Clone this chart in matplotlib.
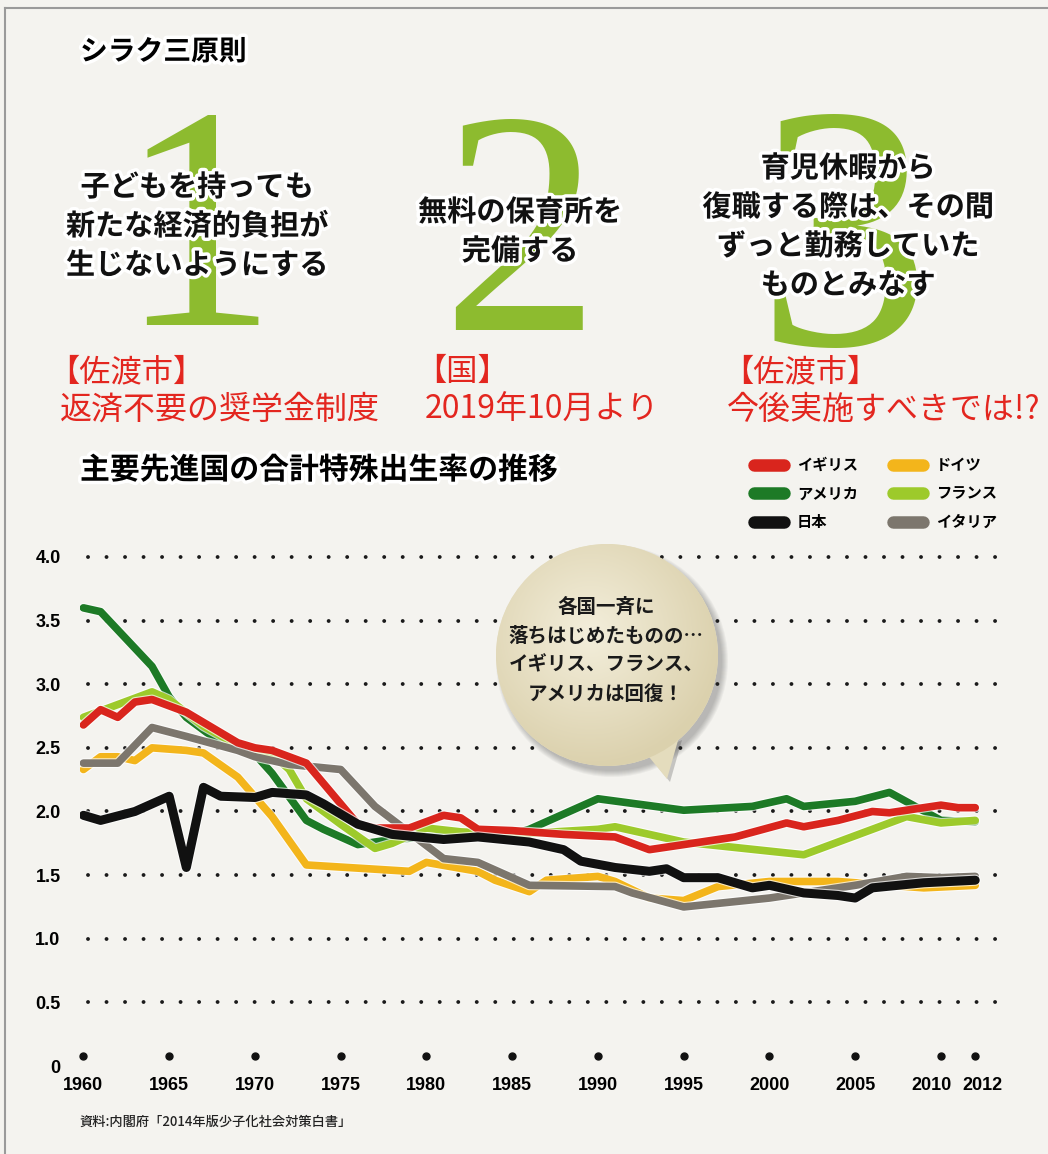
import numpy as np
import matplotlib
matplotlib.use('Agg')
import matplotlib.pyplot as plt
import matplotlib.patheffects as pe
import matplotlib.transforms as mtransforms
from matplotlib.lines import Line2D
from matplotlib.patches import Circle, Polygon

plt.rcParams['font.family'] = ['Noto Sans CJK JP', 'DejaVu Sans']

# --- data (total fertility rate) ---
uk_years = [1960, 1961, 1962, 1963, 1964, 1966, 1967, 1969, 1970, 1971, 1973, 1974, 1976, 1977, 1979,
            1981, 1982, 1983, 1985, 1988, 1991, 1993, 1996, 1998, 2001, 2002, 2004, 2006, 2007, 2010, 2011, 2012]
uk_vals = [2.68, 2.80, 2.74, 2.86, 2.88, 2.78, 2.70, 2.54, 2.50, 2.48, 2.38, 2.22, 1.90, 1.87, 1.87,
           1.97, 1.95, 1.86, 1.85, 1.82, 1.80, 1.70, 1.76, 1.80, 1.91, 1.88, 1.93, 2.00, 1.99, 2.05, 2.03, 2.03]

us_years = [1960, 1961, 1964, 1965, 1966, 1968, 1970, 1971, 1973, 1974, 1976, 1978, 1980, 1985, 1986,
            1990, 1995, 1999, 2001, 2002, 2005, 2007, 2010, 2012]
us_vals = [3.60, 3.57, 3.14, 2.90, 2.74, 2.54, 2.45, 2.30, 1.93, 1.86, 1.74, 1.78, 1.80, 1.82, 1.86,
           2.10, 2.01, 2.04, 2.10, 2.04, 2.08, 2.15, 1.93, 1.92]

jp_years = [1960, 1961, 1963, 1965, 1966, 1967, 1968, 1970, 1971, 1973, 1974, 1976, 1978, 1981, 1983,
            1986, 1988, 1989, 1991, 1993, 1994, 1995, 1997, 1999, 2000, 2002, 2004, 2005, 2006, 2009, 2012]
jp_vals = [1.97, 1.93, 2.00, 2.12, 1.56, 2.19, 2.12, 2.11, 2.15, 2.13, 2.06, 1.90, 1.82, 1.78, 1.80,
           1.76, 1.70, 1.61, 1.56, 1.53, 1.55, 1.48, 1.48, 1.40, 1.42, 1.36, 1.34, 1.32, 1.40, 1.44, 1.46]

de_years = [1960, 1961, 1962, 1963, 1964, 1966, 1967, 1969, 1971, 1973, 1979, 1980, 1983, 1984, 1986,
            1987, 1990, 1991, 1993, 1995, 1997, 2000, 2004, 2009, 2012]
de_vals = [2.33, 2.43, 2.43, 2.40, 2.50, 2.48, 2.46, 2.27, 1.96, 1.58, 1.53, 1.60, 1.53, 1.46, 1.37,
           1.46, 1.49, 1.45, 1.32, 1.30, 1.41, 1.45, 1.45, 1.40, 1.42]

fr_years = [1960, 1962, 1964, 1965, 1967, 1969, 1971, 1972, 1973, 1975, 1977, 1978, 1980, 1982, 1985,
            1990, 1991, 1995, 2002, 2008, 2010, 2012]
fr_vals = [2.74, 2.84, 2.94, 2.88, 2.67, 2.52, 2.45, 2.33, 2.10, 1.90, 1.71, 1.75, 1.87, 1.84, 1.82,
           1.86, 1.88, 1.76, 1.66, 1.96, 1.91, 1.93]

it_years = [1960, 1962, 1964, 1966, 1969, 1970, 1972, 1975, 1977, 1981, 1983, 1986, 1991, 1992, 1995,
            2000, 2005, 2008, 2010, 2012]
it_vals = [2.38, 2.38, 2.66, 2.59, 2.48, 2.43, 2.37, 2.33, 2.04, 1.63, 1.60, 1.42, 1.41, 1.36, 1.25,
           1.32, 1.42, 1.49, 1.48, 1.49]

tick_years = [1960, 1965, 1970, 1975, 1980, 1985, 1990, 1995, 2000, 2005, 2010, 2012]
y_ticks = [0, 0.5, 1.0, 1.5, 2.0, 2.5, 3.0, 3.5, 4.0]
y_labels = ['0', '0.5', '1.0', '1.5', '2.0', '2.5', '3.0', '3.5', '4.0']

W, H = 1048, 1154
fig = plt.figure(figsize=(W / 100, H / 100), dpi=100, facecolor='#f4f3ef')


def px_box(x0, y0, x1, y1):
    return [x0 / W, 1 - y1 / H, (x1 - x0) / W, (y1 - y0) / H]


num_font = ['Liberation Sans Narrow', 'Liberation Sans', 'DejaVu Sans']
glow = [pe.withStroke(linewidth=5, foreground='white')]

# ---------------- chart ----------------
ax = fig.add_axes(px_box(80, 531.5, 1012, 1072.4))
ax.set_facecolor('none')
ax.set_xlim(1959.8, 1959.8 + 932 / 17.15)
ax.set_ylim(-0.05, 4.2)
for s in ax.spines.values():
    s.set_visible(False)

for v in y_ticks[1:]:
    ax.axhline(v, xmin=8 / 932, xmax=1, color='#1a1a1a', lw=2.8,
               linestyle=(0, (0.01, 4.75)), dash_capstyle='round', zorder=1)

series = [
    (de_years, de_vals, '#f3b51b', 2),
    (us_years, us_vals, '#1d7a26', 3),
    (fr_years, fr_vals, '#9dca2b', 4),
    (it_years, it_vals, '#7c766d', 5),
    (uk_years, uk_vals, '#d9251d', 6),
    (jp_years, jp_vals, '#111111', 7),
]
for yrs, vals, c, z in series:
    lw = 6.5 if c == '#111111' else 5.5
    ax.plot(yrs, vals, color=c, lw=lw, zorder=z, solid_joinstyle='round', solid_capstyle='round',
            path_effects=[pe.Stroke(linewidth=lw + 1.6, foreground='white', alpha=0.7), pe.Normal()])

ax.set_xticks(tick_years)
ax.set_xticklabels([str(y) for y in tick_years], family=num_font, fontsize=13, fontweight='bold')
ax.set_yticks(y_ticks)
ax.set_yticklabels(y_labels, family=num_font, fontsize=13, fontweight='bold')
ax.tick_params(axis='x', length=0, pad=3)
ax.tick_params(axis='y', length=0, pad=14)

# spread the two crowded labels at the right end
labels = ax.get_xticklabels()
labels[-2].set_transform(labels[-2].get_transform() + mtransforms.ScaledTranslation(-0.09, 0, fig.dpi_scale_trans))
labels[-1].set_transform(labels[-1].get_transform() + mtransforms.ScaledTranslation(0.07, 0, fig.dpi_scale_trans))

dot_tr = ax.transData + mtransforms.ScaledTranslation(0, 0.10, fig.dpi_scale_trans)
ax.plot(tick_years, np.zeros(len(tick_years)), 'o', ms=5, color='#111111',
        transform=dot_tr, clip_on=False, zorder=2)

# legend
leg_labels = ['イギリス', 'アメリカ', '日本', 'ドイツ', 'フランス', 'イタリア']
leg_colors = ['#d9251d', '#1d7a26', '#111111', '#f3b51b', '#9dca2b', '#7c766d']
handles = [Line2D([], [], color=c, lw=9, solid_capstyle='round') for c in leg_colors]
fig.legend(handles, leg_labels, ncol=2, loc='upper left',
           bbox_to_anchor=(754 / W, 1 - 457 / H), frameon=False,
           prop={'weight': 'bold', 'size': 11}, handlelength=1.96, handletextpad=0.85,
           columnspacing=2.3, labelspacing=0.82, borderpad=0, borderaxespad=0)

# ---------------- overlay (pixel coordinates) ----------------
ov = fig.add_axes([0, 0, 1, 1])
ov.set_facecolor('none')
ov.set_xlim(0, W)
ov.set_ylim(H, 0)
ov.axis('off')

ov.plot([5, 5], [8, H], color='#9a9a9a', lw=1.5)
ov.plot([5, W], [8, 8], color='#9a9a9a', lw=1.5)

ov.text(80, 52, 'シラク三原則', fontsize=20, fontweight='bold', va='center', ha='left',
        path_effects=glow)

# big green numerals
green = '#8dbb2f'
ov.text(197, 325, '1', fontsize=228, color=green, ha='center', va='baseline',
        family='Liberation Serif', zorder=1)
ov.text(520, 330, '2', fontsize=228, color=green, ha='center', va='baseline',
        family='Liberation Serif', zorder=1)
ov.text(843, 345, '3', fontsize=250, color=green, ha='center', va='baseline',
        family='Liberation Serif', zorder=1)

principles = [
    (197, 187, ['子どもを持っても', '新たな経済的負担が', '生じないようにする']),
    (520, 212, ['無料の保育所を', '完備する']),
    (848, 168, ['育児休暇から', '復職する際は、その間', 'ずっと勤務していた', 'ものとみなす']),
]
for x, y0, lines in principles:
    for i, line in enumerate(lines):
        ov.text(x, y0 + i * 39, line, fontsize=21, fontweight='bold', ha='center', va='center',
                color='#111111', path_effects=glow, zorder=3)

red = '#e3261f'
notes = [
    (48, 60, '【佐渡市】', '返済不要の奨学金制度'),
    (415, 425, '【国】', '2019年10月より'),
    (722, 727, '【佐渡市】', '今後実施すべきでは!?'),
]
for x1, x2, t1, t2 in notes:
    ov.text(x1, 372, t1, fontsize=22.5, color=red, ha='left', va='center')
    ov.text(x2, 410, t2, fontsize=23, color=red, ha='left', va='center')

ov.text(80, 470, '主要先進国の合計特殊出生率の推移', fontsize=21.5, fontweight='bold',
        ha='left', va='center', path_effects=glow)

# speech bubble
for k in range(7):
    ov.add_patch(Circle((612, 661), 110 + k, color='#3a3a3a', alpha=0.05, lw=0, zorder=4))
tail_pts = [(645, 752), (679, 737), (667, 779)]
ov.add_patch(Polygon([(p[0] + 3, p[1] + 3) for p in tail_pts], closed=True, color='#3a3a3a',
                     alpha=0.25, lw=0, zorder=4))
bub = Circle((607, 655), 111, facecolor='#e9e2c7', edgecolor='none', zorder=5)
ov.add_patch(bub)
ov.add_patch(Polygon(tail_pts, closed=True, facecolor='#e4dcbd', edgecolor='none', zorder=5))
gx, gy = np.meshgrid(np.linspace(-1, 1, 200), np.linspace(-1, 1, 200))
rad = np.sqrt((gx + 0.15) ** 2 + (gy + 0.2) ** 2)
light = np.array([0.955, 0.935, 0.86])
dark = np.array([0.86, 0.82, 0.68])
img = light + np.clip(rad, 0, 1.2)[..., None] / 1.2 * (dark - light)
im = ov.imshow(img, extent=(496, 718, 766, 544), aspect='auto', zorder=5.5)
im.set_clip_path(bub)
ov.set_xlim(0, W)
ov.set_ylim(H, 0)

bubble_lines = ['各国一斉に', '落ちはじめたものの…', 'イギリス、フランス、', 'アメリカは回復！']
for i, line in enumerate(bubble_lines):
    ov.text(606, 607 + i * 29, line, fontsize=14, fontweight='bold', ha='center', va='center',
            color='#1a1a1a', zorder=6)

ov.text(80, 1122, '資料:内閣府「2014年版少子化社会対策白書」', fontsize=9.5, fontweight='medium',
        ha='left', va='center', color='#222222')

fig.savefig('out.png', dpi=100, facecolor=fig.get_facecolor())
